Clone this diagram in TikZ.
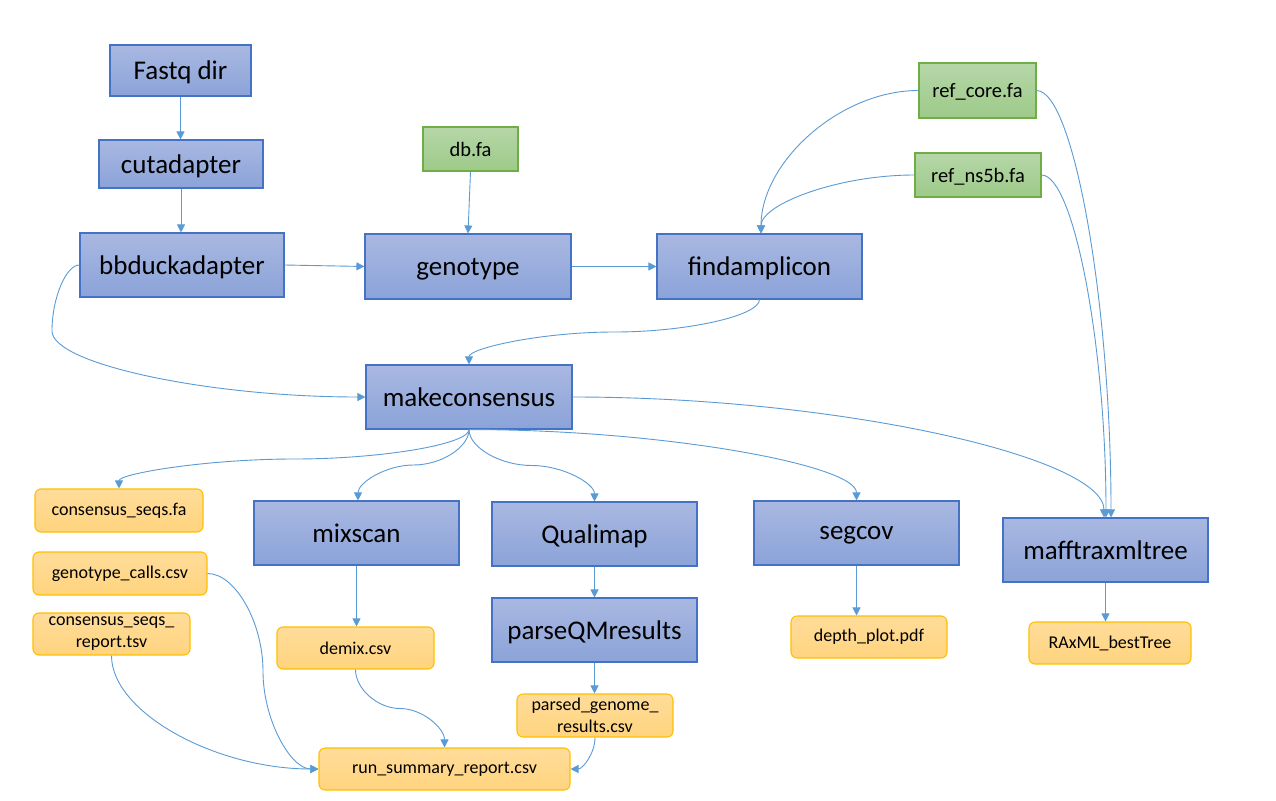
\documentclass[tikz,border=0pt]{standalone}
\usepackage{fontspec}
\setmainfont{Carlito}
\usetikzlibrary{arrows.meta,calc}
\definecolor{bluebd}{HTML}{4472C4}
\definecolor{bluetop}{HTML}{A9B8E1}
\definecolor{bluebot}{HTML}{8BA3D9}
\definecolor{greenbd}{HTML}{70AD47}
\definecolor{greentop}{HTML}{B6D7A8}
\definecolor{greenbot}{HTML}{9DCA89}
\definecolor{yelbd}{HTML}{FFC000}
\definecolor{yeltop}{HTML}{FFDC9A}
\definecolor{yelbot}{HTML}{FFD47E}
\definecolor{conncol}{HTML}{5B9BD5}
\tikzset{
  procbox/.style={draw=bluebd, line width=1.1pt, top color=bluetop, bottom color=bluebot, inner sep=0pt, text depth=0pt, font=\fontsize{27}{32}\selectfont},
  refbox/.style={draw=greenbd, line width=1.1pt, top color=greentop, bottom color=greenbot, inner sep=0pt, text depth=0pt, font=\fontsize{20.5}{24}\selectfont},
  filebox/.style={draw=yelbd, line width=1.1pt, top color=yeltop, bottom color=yelbot, rounded corners=6pt, inner sep=0pt, align=center, font=\fontsize{18}{22}\selectfont},
  sz/.style 2 args={minimum width=#1pt, minimum height=#2pt},
  conn/.style={draw=conncol, line width=0.9pt, -{Triangle[length=8pt,width=8pt]}},
}
% horizontal start, vertical end
\newcommand\hvcurve[2]{\draw[conn] let \p1=(#1), \p2=(#2) in (\p1) .. controls ({(\x1+\x2)/2},\y1) and (\x2,{(\y1+\y2)/2}) .. (\p2);}
% vertical start, horizontal end
\newcommand\vhcurve[2]{\draw[conn] let \p1=(#1), \p2=(#2) in (\p1) .. controls (\x1,{(\y1+\y2)/2}) and ({(\x1+\x2)/2},\y2) .. (\p2);}
% vertical start, vertical end (S)
\newcommand\vvcurve[2]{\draw[conn] let \p1=(#1), \p2=(#2) in (\p1) .. controls (\x1,{(3*\y1+\y2)/4}) and ({(3*\x1+\x2)/4},{(\y1+\y2)/2}) .. ({(\x1+\x2)/2},{(\y1+\y2)/2}) .. controls ({(\x1+3*\x2)/4},{(\y1+\y2)/2}) and (\x2,{(\y1+3*\y2)/4}) .. (\p2);}
% horizontal start, horizontal end (S)
\newcommand\hhcurve[2]{\draw[conn] let \p1=(#1), \p2=(#2) in (\p1) .. controls ({(3*\x1+\x2)/4},\y1) and ({(\x1+\x2)/2},{(3*\y1+\y2)/4}) .. ({(\x1+\x2)/2},{(\y1+\y2)/2}) .. controls ({(\x1+\x2)/2},{(\y1+3*\y2)/4}) and ({(\x1+3*\x2)/4},\y2) .. (\p2);}
\begin{document}
\begin{tikzpicture}[x=1pt,y=-1pt]
\useasboundingbox (0,0) rectangle (1276,800);
\fill[white] (0,0) rectangle (1276,800);

% process boxes
\node[procbox, sz={141}{51}] (fastq) at (180.5,70.5) {Fastq dir};
\node[procbox, sz={164}{48}] (cut) at (181,164) {cutadapter};
\node[procbox, sz={204}{64}] (bbduck) at (182,265) {bbduckadapter};
\node[procbox, sz={206}{65}] (geno) at (468,266.5) {genotype};
\node[procbox, sz={205}{65}] (finda) at (759.5,266.5) {findamplicon};
\node[procbox, sz={206}{64}] (mc) at (469,397) {makeconsensus};
\node[procbox, sz={205}{64}] (mixscan) at (356.5,533) {mixscan};
\node[procbox, sz={205}{64}] (quali) at (594.5,534) {Qualimap};
\node[procbox, sz={205}{64}] (segcov) at (856.5,533) {segcov};
\node[procbox, sz={205}{64}] (mafft) at (1105.5,550) {mafftraxmltree};
\node[procbox, sz={205}{64}] (pqm) at (594.5,630) {parseQMresults};

% reference boxes
\node[refbox, sz={95}{44}] (dbfa) at (470.5,149) {db.fa};
\node[refbox, sz={117}{55}] (refcore) at (977.5,90.5) {ref\_core.fa};
\node[refbox, sz={126}{44}] (refns) at (978,175) {ref\_ns5b.fa};

% file boxes
\node[filebox, sz={168}{43}] (csfa) at (119,510.5) {consensus\_seqs.fa};
\node[filebox, sz={174}{43}] (gcalls) at (120,573.5) {genotype\_calls.csv};
\node[filebox, sz={157}{42}] (csrep) at (111.5,634) {consensus\_seqs\_\\report.tsv};
\node[filebox, sz={157}{42}] (demix) at (355.5,648) {demix.csv};
\node[filebox, sz={156}{42}] (depth) at (869,637) {depth\_plot.pdf};
\node[filebox, sz={162}{42}] (raxml) at (1110,643) {RAxML\_bestTree};
\node[filebox, sz={156}{43}] (parsed) at (595,715.5) {parsed\_genome\_\\results.csv};
\node[filebox, sz={251}{42}] (runsum) at (444.5,769) {run\_summary\_report.csv};

% straight connectors
\draw[conn] (fastq.south) -- (fastq.south |- cut.north);
\draw[conn] (cut.south) -- (cut.south |- bbduck.north);
\draw[conn] (dbfa.south) -- (geno.north);
\draw[conn] (bbduck.east) -- (geno.west);
\draw[conn] (geno.east) -- (finda.west);
\draw[conn] (mixscan.south) -- (mixscan.south |- demix.north);
\draw[conn] (quali.south) -- (pqm.north);
\draw[conn] (pqm.south) -- (pqm.south |- parsed.north);
\draw[conn] (segcov.south) -- (segcov.south |- depth.north);
\draw[conn] (mafft.south) -- (mafft.south |- raxml.north);

% curved connectors
\draw[conn] (bbduck.west) .. controls (66,265) and (52,298) .. (52,331) .. controls (52,364) and (209,397) .. (mc.west);
\vvcurve{finda.south}{mc.north}
\hvcurve{refcore.west}{$(finda.north)+(1.5,0)$}
\hvcurve{refns.west}{$(finda.north)+(1.5,0)$}
\hvcurve{refcore.east}{$(mafft.north)+(5.5,0)$}
\hvcurve{refns.east}{$(mafft.north)+(0.5,0)$}
\hvcurve{mc.east}{$(mafft.north)+(-1.5,0)$}
\hvcurve{mc.south}{segcov.north}
\vvcurve{mc.south}{csfa.north}
\vvcurve{mc.south}{$(mixscan.north)+(1.5,0)$}
\vvcurve{mc.south}{quali.north}
\hhcurve{gcalls.east}{runsum.west}
\vhcurve{csrep.south}{runsum.west}
\vvcurve{demix.south}{runsum.north}
\vhcurve{parsed.south}{runsum.east}
\end{tikzpicture}
\end{document}
